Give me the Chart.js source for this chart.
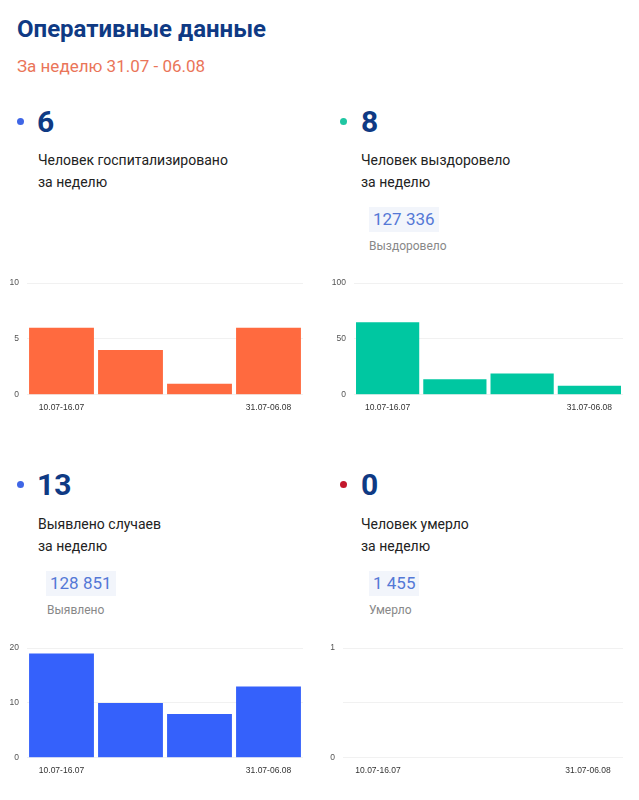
<!DOCTYPE html>
<html>
<head>
<meta charset="utf-8">
<script src="https://cdn.jsdelivr.net/npm/chart.js@4"></script>
<style>
  body { margin: 0; background: #fff; font-family: Roboto, sans-serif; }
  .page { position: relative; width: 639px; height: 800px; overflow: hidden; }
  .abs { position: absolute; }
  .title { left: 17px; top: 15px; font-size: 24px; font-weight: 700; color: #0f3a84; }
  .sub { left: 17px; top: 56px; font-size: 17px; color: #ea7559; }
  .dot { width: 7px; height: 7px; border-radius: 50%; }
  .num { font-size: 30px; font-weight: 700; color: #0f3a84; line-height: 30px; }
  .desc { font-size: 14px; color: #222; line-height: 22px; }
  .total { background: #f2f5fb; color: #5478d6; font-size: 17px; padding: 3px 4px; line-height: 19px; }
  .lbl { font-size: 12px; color: #888; }
  canvas { position: absolute; }
</style>
</head>
<body>
<div class="page">
  <div class="abs title">Оперативные данные</div>
  <div class="abs sub">За неделю 31.07 - 06.08</div>

  <div class="abs dot" style="left:17px;top:118px;background:#3f66e6"></div>
  <div class="abs num" style="left:37px;top:107px">6</div>
  <div class="abs desc" style="left:38px;top:149px">Человек госпитализировано<br>за неделю</div>

  <div class="abs dot" style="left:340px;top:118px;background:#1fc6a2"></div>
  <div class="abs num" style="left:361px;top:107px">8</div>
  <div class="abs desc" style="left:361px;top:149px">Человек выздоровело<br>за неделю</div>
  <div class="abs total" style="left:369px;top:207px">127 336</div>
  <div class="abs lbl" style="left:369px;top:239px">Выздоровело</div>

  <div class="abs dot" style="left:17px;top:481px;background:#3f66e6"></div>
  <div class="abs num" style="left:37px;top:470px">13</div>
  <div class="abs desc" style="left:38px;top:513px">Выявлено случаев<br>за неделю</div>
  <div class="abs total" style="left:46px;top:571px">128 851</div>
  <div class="abs lbl" style="left:47px;top:603px">Выявлено</div>

  <div class="abs dot" style="left:340px;top:481px;background:#c3172c"></div>
  <div class="abs num" style="left:361px;top:470px">0</div>
  <div class="abs desc" style="left:361px;top:513px">Человек умерло<br>за неделю</div>
  <div class="abs total" style="left:369px;top:571px">1 455</div>
  <div class="abs lbl" style="left:369px;top:603px">Умерло</div>

  <canvas id="c1" style="left:0;top:270px;width:306px;height:151px"></canvas>
  <canvas id="c2" style="left:320px;top:270px;width:306px;height:151px"></canvas>
  <canvas id="c3" style="left:0;top:635px;width:306px;height:149px"></canvas>
  <canvas id="c4" style="left:320px;top:635px;width:306px;height:149px"></canvas>
</div>
<script>
// недели
var weeks = ['10.07-16.07', '17.07-23.07', '24.07-30.07', '31.07-06.08'];
// значения по неделям
var hospitalized = [6, 4, 1, 6];
var recovered = [65, 14, 19, 8];
var detected = [19, 10, 8, 13];
var died = [0, 0, 0, 0];
// шкала y: максимум и шаг
var yMax = [10, 100, 20, 1];
var yStep = [5, 50, 10, 0.5];

function makeChart(id, values, color, max, step, axisWidth) {
    var ctx = document.getElementById(id).getContext('2d');
    return new Chart(ctx, {
        type: 'bar',
        data: {
            labels: weeks,
            datasets: [{
                data: values,
                backgroundColor: color,
                barPercentage: 0.94,
                categoryPercentage: 1
            }]
        },
        options: {
            responsive: false,
            animation: false,
            layout: { padding: { top: 6, right: 3, bottom: 0, left: 0 } },
            plugins: { legend: { display: false }, tooltip: { enabled: false } },
            scales: {
                x: {
                    grid: { display: false, drawTicks: false },
                    border: { display: false },
                    ticks: {
                        autoSkip: false,
                        maxRotation: 0,
                        padding: 8,
                        color: '#333',
                        font: { family: 'Liberation Sans', size: 8.5 },
                        callback: function (v, i) {
                            return (i === 0 || i === weeks.length - 1) ? weeks[i] : '';
                        }
                    }
                },
                y: {
                    min: 0,
                    max: max,
                    afterFit: function (s) { s.width = axisWidth; },
                    grid: { color: '#f1f1f1', drawTicks: false },
                    border: { display: false },
                    ticks: {
                        stepSize: step,
                        padding: 8,
                        color: '#555',
                        font: { family: 'Liberation Sans', size: 8.5 },
                        callback: function (v) { return Number.isInteger(v) ? v : ''; }
                    }
                }
            }
        }
    });
}

window.onload = function () {
    makeChart('c1', hospitalized, '#ff6a3f', yMax[0], yStep[0], 27);
    makeChart('c2', recovered, '#00c7a1', yMax[1], yStep[1], 34);
    makeChart('c3', detected, '#3561fb', yMax[2], yStep[2], 27);
    makeChart('c4', died, '#3561fb', yMax[3], yStep[3], 23);
};
</script>
</body>
</html>
